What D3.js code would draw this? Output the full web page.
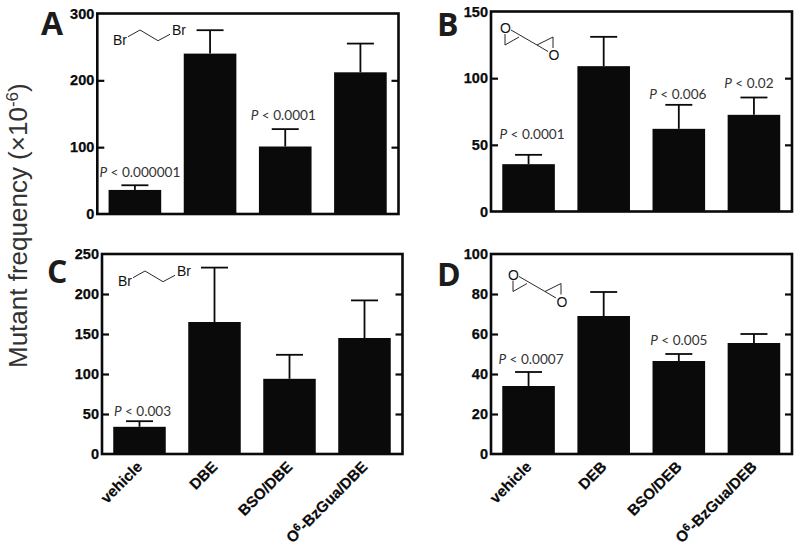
<!DOCTYPE html>
<html><head><meta charset="utf-8">
<script src="https://cdn.jsdelivr.net/npm/d3@7"></script>
<style>html,body{margin:0;padding:0;background:#fff}svg{display:block}</style></head>
<body><svg id="c" width="800" height="551"></svg>
<script>
const catsBr = ["vehicle","DBE","BSO/DBE","BzGua/DBE"];
const catsEp = ["vehicle","DEB","BSO/DEB","BzGua/DEB"];
const valuesA = [36,240,101,212], errorsA = [43,275,127,255];
const valuesB = [35.5,109,62,72.5], errorsB = [42.5,131,80,85.5];
const valuesC = [34,165,94,145], errorsC = [41,233,124,192];
const valuesD = [34,69,46.5,55.5], errorsD = [41,81,50,60];
const ticksA = [0,100,200,300], ticksB = [0,50,100,150], ticksC = [0,50,100,150,200,250], ticksD = [0,20,40,60,80,100];
const pA = ["P < 0.000001",null,"P < 0.0001",null];
const pB = ["P < 0.0001",null,"P < 0.006","P < 0.02"];
const pC = ["P < 0.003",null,null,null];
const pD = ["P < 0.0007",null,"P < 0.005",null];

const panels = [
 {id:"A",l:97.3,r:398.5,t:13.5,b:214,cats:null,v:valuesA,e:errorsA,ticks:ticksA,p:pA,lx:41,ly:35,mol:"br",mx:0,my:0,pdy:[-8,0,-9,0],pdx:[5,0,-2,0]},
 {id:"B",l:491,r:792,t:11.5,b:211.5,cats:null,v:valuesB,e:errorsB,ticks:ticksB,p:pB,lx:437,ly:36,mol:"ep",mx:0,my:0,pdy:[-16,0,-6,-9.5],pdx:[3.5,0,-1,-5]},
 {id:"C",l:102,r:402.5,t:254,b:454,cats:catsBr,v:valuesC,e:errorsC,ticks:ticksC,p:pC,lx:47,ly:283,mol:"br",mx:5,my:241,pdy:[-5,0,0,0],pdx:[3,0,0,0]},
 {id:"D",l:491,r:792,t:254,b:454,cats:catsEp,v:valuesD,e:errorsD,ticks:ticksD,p:pD,lx:437,ly:286,mol:"ep",mx:8,my:246.5,pdy:[-8,0,-9,0],pdx:[2.5,0,0,0]}
];
const svg = d3.select("#c");
const line = d3.line();
const brChain = [[128,36.7],[140,30],[158,40.7],[170,34.3]];
const epLines = [[[511,30],[537,45],[548,51.5]],[[505,34],[505,45],[519,37]],[[537,45],[553,37],[553,48]]];
const ink = "#0a0a0a";

panels.forEach(d=>{
  const g = svg.append("g");
  const y = d3.scaleLinear().domain([0,d.ticks[d.ticks.length-1]]).range([d.b,d.t]);
  const x = d3.scaleBand().domain(d3.range(4)).range([d.l,d.r-0.5]).paddingInner(0.3).paddingOuter(0.15);
  const bw = x.bandwidth();
  g.append("rect").attr("x",d.l).attr("y",d.t).attr("width",d.r-d.l).attr("height",d.b-d.t)
    .attr("fill","none").attr("stroke",ink).attr("stroke-width",2.6);
  d.v.forEach((v,i)=>{
    const cx = x(i)+bw/2;
    g.append("line").attr("x1",cx).attr("x2",cx).attr("y1",y(v)).attr("y2",y(d.e[i])).attr("stroke",ink).attr("stroke-width",1.8);
    g.append("line").attr("x1",cx-13.5).attr("x2",cx+13.5).attr("y1",y(d.e[i])).attr("y2",y(d.e[i])).attr("stroke",ink).attr("stroke-width",1.8);
    g.append("rect").attr("x",x(i)).attr("y",y(v)).attr("width",bw).attr("height",d.b-y(v)).attr("fill",ink);
    if(d.p[i]){
      const t = g.append("text").attr("x",cx+d.pdx[i]).attr("y",y(d.e[i])+d.pdy[i]).attr("text-anchor","middle")
        .attr("font-family","Lato").attr("font-size",13.6).attr("fill","#333");
      const s = d.p[i];
      t.append("tspan").attr("font-style","italic").text(s[0]);
      t.append("tspan").text(s.slice(1));
    }
  });
  const ax = d3.axisLeft(y).tickValues(d.ticks).tickSize(0).tickPadding(3).tickFormat(d3.format("d"));
  const ag = g.append("g").attr("transform",`translate(${d.l},0)`).call(ax);
  ag.select(".domain").remove();
  ag.selectAll("text").attr("font-family","Liberation Sans").attr("font-weight","bold").attr("font-size",14.5)
    .attr("fill",ink).attr("stroke",ink).attr("stroke-width",0.25);
  const mid = d.ticks.slice(1,-1);
  [[d3.axisLeft,d.l,-7],[d3.axisRight,d.r,-7]].forEach(([ctor,tx,size])=>{
    const a = g.append("g").attr("transform",`translate(${tx},0)`).call(ctor(y).tickValues(mid).tickSize(size).tickFormat(""));
    a.select(".domain").remove();
    a.selectAll("line").attr("stroke",ink).attr("stroke-width",2.2);
  });
  g.append("text").attr("x",d.lx).attr("y",d.ly).attr("font-family","Open Sans").attr("font-weight","bold").attr("font-size",32).attr("fill","#1c1c1c").text(d.id);
  if(d.cats){
    d.cats.forEach((c,i)=>{
      const cx = x(i)+bw/2+1, cy = d.b+11;
      const t = g.append("text").attr("transform",`translate(${cx},${cy}) rotate(-45)`)
        .attr("dy",4).attr("text-anchor","end").attr("font-family","Liberation Sans").attr("font-weight","bold").attr("font-size",15.2)
        .attr("fill",ink).attr("stroke",ink).attr("stroke-width",0.2);
      if(i===3){
        t.append("tspan").text("O");
        t.append("tspan").attr("dy",-5).attr("font-size",11).text("6");
        t.append("tspan").attr("dy",5).text("-"+c);
      } else t.text(c);
    });
  }
  const m = g.append("g").attr("transform",`translate(${d.mx},${d.my})`);
  const lab = (px,py,s)=>m.append("text").attr("x",px).attr("y",py).attr("font-family","Liberation Sans").attr("font-size",14).attr("fill","#111").text(s);
  if(d.mol==="br"){
    m.append("path").attr("d",line(brChain)).attr("fill","none").attr("stroke","#111").attr("stroke-width",0.9);
    lab(113,45,"Br"); lab(172,35,"Br");
  } else {
    epLines.forEach(l=>m.append("path").attr("d",line(l)).attr("fill","none").attr("stroke","#111").attr("stroke-width",0.9));
    lab(500,33,"O"); lab(548.5,60,"O");
  }
});
const tt = svg.append("text").attr("transform","translate(27,368) rotate(-90)").attr("font-family","Liberation Sans").attr("font-size",26).attr("fill","#333");
tt.append("tspan").text("Mutant frequency (×10");
tt.append("tspan").attr("dy",-9).attr("font-size",17).text("-6");
tt.append("tspan").attr("dy",9).text(")");
</script></body></html>
